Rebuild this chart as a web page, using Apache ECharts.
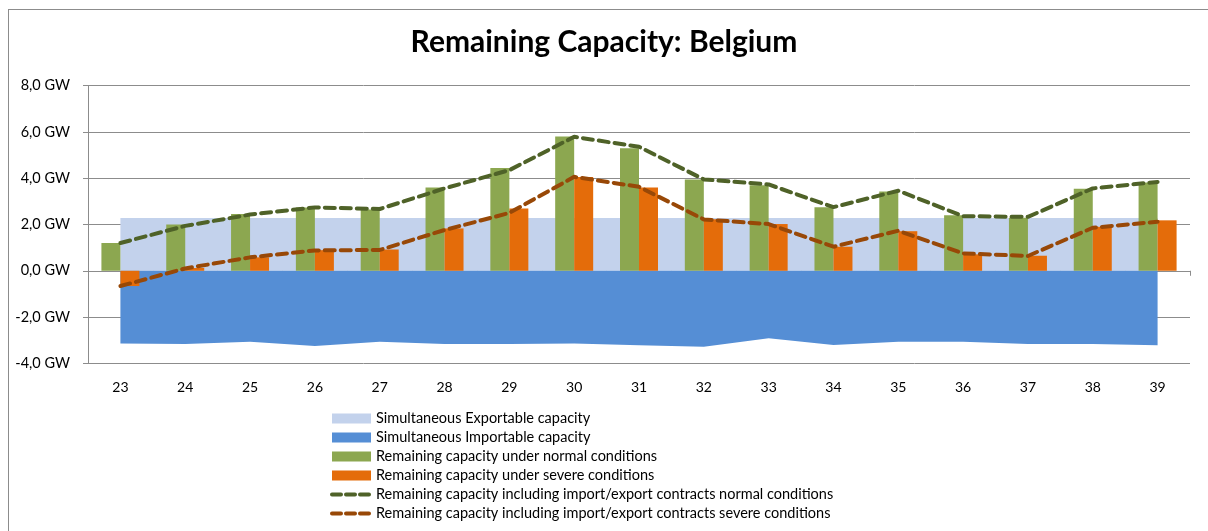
<!DOCTYPE html>
<html>
<head>
<meta charset="utf-8">
<script src="https://cdn.jsdelivr.net/npm/echarts@6/dist/echarts.min.js"></script>
<style>
  html, body { margin: 0; padding: 0; background: #fff; }
  #wrap { position: relative; width: 1208px; height: 531px; overflow: hidden; }
  #frame { position: absolute; left: 8px; top: 9px; width: 1300px; height: 700px;
           border-left: 1px solid #8c8c8c; border-top: 1px solid #8c8c8c; }
  #myChart { position: absolute; left: 0; top: 0; width: 1208px; height: 531px; }
</style>
</head>
<body>
<div id="wrap">
  <div id="frame"></div>
  <div id="myChart"></div>
</div>
<script>
  // weeks
  var weeks = ['23', '24', '25', '26', '27', '28', '29', '30', '31', '32', '33', '34', '35', '36', '37', '38', '39'];
  // y axis ticks (GW)
  var yTicks = [-4, -2, 0, 2, 4, 6, 8];

  var exportable = [2.28, 2.28, 2.28, 2.28, 2.28, 2.28, 2.28, 2.28, 2.28, 2.28, 2.28, 2.28, 2.28, 2.28, 2.28, 2.28, 2.28];
  var importable = [-3.14, -3.17, -3.07, -3.25, -3.07, -3.17, -3.17, -3.14, -3.22, -3.28, -2.92, -3.21, -3.07, -3.07, -3.17, -3.17, -3.22];
  var normal = [1.20, 2.00, 2.45, 2.74, 2.65, 3.60, 4.44, 5.80, 5.30, 3.95, 3.70, 2.75, 3.43, 2.40, 2.29, 3.54, 3.82];
  var severe = [-0.66, 0.12, 0.58, 0.89, 0.92, 1.83, 2.69, 4.05, 3.60, 2.23, 2.02, 1.04, 1.71, 0.71, 0.65, 1.90, 2.18];
  var contractsNormal = [1.20, 1.94, 2.43, 2.74, 2.67, 3.56, 4.35, 5.79, 5.36, 3.95, 3.73, 2.75, 3.46, 2.36, 2.33, 3.56, 3.84];
  var contractsSevere = [-0.66, 0.10, 0.58, 0.88, 0.90, 1.76, 2.50, 4.06, 3.63, 2.22, 2.02, 1.04, 1.73, 0.75, 0.64, 1.86, 2.12];

  var names = [
    'Simultaneous Exportable capacity',
    'Simultaneous Importable capacity',
    'Remaining capacity under normal conditions',
    'Remaining capacity under severe conditions',
    'Remaining capacity including import/export contracts normal conditions',
    'Remaining capacity including import/export contracts severe conditions'
  ];

  var font = 'Lato, "Open Sans", sans-serif';
  var dash = { width: 4, type: [10, 6], cap: 'round' };
  var myChart = echarts.init(document.getElementById('myChart'));

  var option = {
    animation: false,
    textStyle: { fontFamily: font },
    title: {
      text: 'Remaining Capacity: Belgium',
      left: 'center',
      top: 22,
      textStyle: { fontFamily: font, fontSize: 30, fontWeight: 'bold', color: '#000' }
    },
    legend: {
      orient: 'vertical',
      left: 325,
      top: 406,
      itemWidth: 39,
      itemHeight: 10,
      itemGap: 4,
      textStyle: { fontFamily: font, fontSize: 14.5, lineHeight: 14, color: '#000' },
      data: [
        { name: names[0], icon: 'rect' },
        { name: names[1], icon: 'rect' },
        { name: names[2], icon: 'rect' },
        { name: names[3], icon: 'rect' },
        { name: names[4], itemStyle: { opacity: 0 }, lineStyle: { width: 4, type: [9, 5], cap: 'round' } },
        { name: names[5], itemStyle: { opacity: 0 }, lineStyle: { width: 4, type: [9, 5], cap: 'round' } }
      ]
    },
    grid: { left: 88, right: 18, top: 85.7, bottom: 167.7 },
    xAxis: [
      {
        type: 'category',
        data: weeks,
        position: 'bottom',
        axisLine: { onZero: true, lineStyle: { color: '#8c8c8c', width: 1 } },
        axisTick: { show: true, length: 5, lineStyle: { color: '#8c8c8c' } },
        axisLabel: { show: false }
      },
      {
        type: 'category',
        data: weeks,
        position: 'bottom',
        axisLine: { show: false, onZero: false },
        axisTick: { show: false },
        axisLabel: { margin: 17, fontFamily: font, fontSize: 14, color: '#000' }
      }
    ],
    yAxis: {
      type: 'value',
      min: yTicks[0],
      max: yTicks[yTicks.length - 1],
      interval: 2,
      axisLine: { show: true, lineStyle: { color: '#8c8c8c' } },
      axisTick: { show: true, length: 5, lineStyle: { color: '#8c8c8c' } },
      splitLine: { lineStyle: { color: '#8c8c8c', width: 1 } },
      axisLabel: {
        margin: 18,
        fontFamily: font,
        fontSize: 14.5,
        color: '#000',
        formatter: function (v) { return v.toFixed(1).replace('.', ',') + ' GW'; }
      }
    },
    series: [
      {
        name: names[0],
        type: 'line',
        data: exportable,
        symbol: 'none',
        color: '#c3d2ec',
        lineStyle: { width: 0 },
        areaStyle: { color: '#c3d2ec', opacity: 1 },
        z: 1
      },
      {
        name: names[1],
        type: 'line',
        data: importable,
        symbol: 'none',
        color: '#558ed5',
        lineStyle: { width: 0 },
        areaStyle: { color: '#558ed5', opacity: 1 },
        z: 1
      },
      {
        name: names[2],
        type: 'bar',
        data: normal,
        barWidth: 19,
        barGap: '0%',
        color: '#8ca750',
        z: 2
      },
      {
        name: names[3],
        type: 'bar',
        data: severe,
        barWidth: 19,
        barGap: '0%',
        color: '#e46c0a',
        z: 2
      },
      {
        name: names[4],
        type: 'line',
        data: contractsNormal,
        symbol: 'none',
        color: '#4f6228',
        lineStyle: Object.assign({ color: '#4f6228' }, dash),
        z: 3
      },
      {
        name: names[5],
        type: 'line',
        data: contractsSevere,
        symbol: 'none',
        color: '#984807',
        lineStyle: Object.assign({ color: '#984807' }, dash),
        z: 3
      }
    ]
  };
  myChart.setOption(option);
</script>
</body>
</html>
